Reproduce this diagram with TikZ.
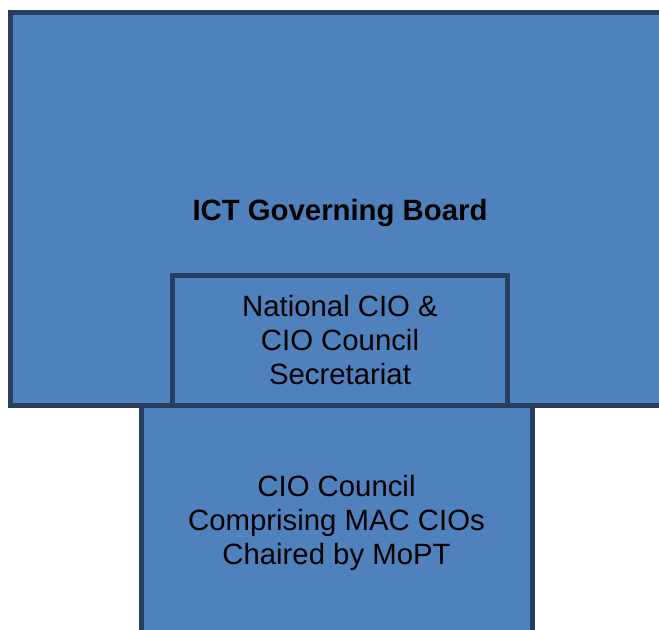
\documentclass[tikz,border=0pt]{standalone}
\usepackage{fontspec}
\setmainfont{Liberation Sans}
\definecolor{boxfill}{HTML}{4F81BD}
\definecolor{boxline}{HTML}{263F60}
\tikzset{
  unit/.style={draw=boxline, fill=boxfill, line width=3.75pt, inner sep=0pt,
    align=center, font=\fontsize{22}{25.5}\selectfont},
}
\begin{document}
\begin{tikzpicture}[x=0.75pt, y=-0.75pt]
  \useasboundingbox (0,0) rectangle (659,630);
  \clip (0,0) rectangle (659,630);
  % governing board, runs off the right edge
  \node[unit, minimum width=494.25pt, minimum height=294.75pt,
    label={[font=\fontsize{22}{25.5}\selectfont\bfseries, yshift=-3pt]center:ICT Governing Board}]
    (board) at (340,209) {};
  % council, runs off the bottom edge
  \node[unit, minimum width=293.25pt, minimum height=177pt]
    (council) at (336.5,523) {CIO Council\\Comprising MAC CIOs\\Chaired by MoPT};
  \node[unit, minimum width=251.25pt, minimum height=97.5pt]
    (secretariat) at (340,340.5) {National CIO \&\\CIO Council\\Secretariat};
\end{tikzpicture}
\end{document}
